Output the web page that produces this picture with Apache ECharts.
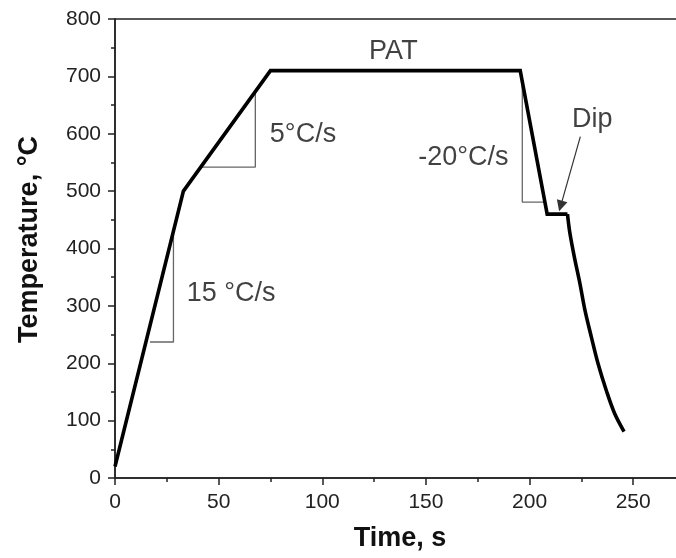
<!DOCTYPE html>
<html>
<head>
<meta charset="utf-8">
<script src="https://cdn.jsdelivr.net/npm/echarts@6/dist/echarts.min.js"></script>
<style>
html,body{margin:0;padding:0;background:#fff;}
#c{width:676px;height:558px;}
</style>
</head>
<body>
<div id="c"></div>
<script>
// Temperature profile: heating, PAT hold, quench to dip (time s, temperature °C)
var time = [0, 33, 75, 195.5, 208.5, 218.3];
var temp = [20, 500, 710, 710, 460, 460];
// final cooling after the dip
var coolTime = [218.3, 219.5, 221.9, 224.3, 226.7, 229.8, 233, 237, 241, 245.6];
var coolTemp = [460, 426, 380, 339, 293, 246, 200, 153, 113, 81];

// slope helper triangles
var tri15X = [16.9, 28.2, 28.2];
var tri15Y = [237, 237, 427];
var tri5X = [41.5, 67.7, 67.7];
var tri5Y = [542, 542, 673];
var tri20X = [196.5, 196.5, 207.3];
var tri20Y = [690, 481, 481];

// annotations
var noteText = ['PAT', '5°C/s', '15 °C/s', '-20°C/s', 'Dip'];
var noteX = [134.3, 90.7, 56, 168.1, 230.2];
var noteY = [744, 598, 321, 558, 624];

// arrow pointing to the dip
var arrowFrom = [224.5, 595];
var arrowTo = [215, 474];

// axes
var xMin = 0, xMax = 275, xStep = 50;
var yMin = 0, yMax = 800, yStep = 100;

function zip(a, b) { return a.map(function (v, i) { return [v, b[i]]; }); }

var FONT = "'Liberation Sans', Arial, sans-serif";
var chart = echarts.init(document.getElementById('c'), null, {renderer: 'canvas'});

var mainLine = {color: '#000', width: 3.6, join: 'miter', cap: 'butt'};
var option = {
  animation: false,
  backgroundColor: '#fff',
  grid: {left: 115, top: 19, width: 570, height: 459, show: true, borderColor: '#222', borderWidth: 1.5, backgroundColor: 'transparent', outerBoundsMode: 'none'},
  xAxis: {
    type: 'value', min: xMin, max: xMax, interval: xStep,
    name: 'Time, s', nameLocation: 'middle', nameGap: 47,
    nameTextStyle: {fontFamily: FONT, fontSize: 27, fontWeight: 'bold', color: '#111'},
    axisLine: {show: true, lineStyle: {color: '#222', width: 1.5}},
    axisTick: {show: true, inside: false, length: 7, lineStyle: {color: '#222', width: 1.5}},
    minorTick: {show: true, splitNumber: 2, length: 4, lineStyle: {color: '#222', width: 1.5}},
    splitLine: {show: false},
    axisLabel: {fontFamily: FONT, fontSize: 21, color: '#222', margin: 14,
      formatter: function (v) { return v % xStep === 0 ? String(v) : ''; }}
  },
  yAxis: {
    type: 'value', min: yMin, max: yMax, interval: yStep,
    name: 'Temperature, °C', nameLocation: 'middle', nameGap: 72,
    nameTextStyle: {fontFamily: FONT, fontSize: 27, fontWeight: 'bold', color: '#111', padding: [0, 0, 0, 18]},
    axisLine: {show: true, lineStyle: {color: '#222', width: 1.5}},
    axisTick: {show: true, inside: false, length: 7, lineStyle: {color: '#222', width: 1.5}},
    minorTick: {show: true, splitNumber: 2, length: 4, lineStyle: {color: '#222', width: 1.5}},
    splitLine: {show: false},
    axisLabel: {fontFamily: FONT, fontSize: 21, color: '#222', margin: 14}
  },
  series: [
    {type: 'line', data: zip(tri15X, tri15Y), symbol: 'none', silent: true,
      lineStyle: {color: '#666', width: 1.3}},
    {type: 'line', data: zip(tri5X, tri5Y), symbol: 'none', silent: true,
      lineStyle: {color: '#666', width: 1.3}},
    {type: 'line', data: zip(tri20X, tri20Y), symbol: 'none', silent: true,
      lineStyle: {color: '#666', width: 1.3}},
    {type: 'line', data: zip(time, temp), symbol: 'none', z: 5, lineStyle: mainLine},
    {type: 'line', data: zip(coolTime, coolTemp), symbol: 'none', z: 5, smooth: 0.35, lineStyle: mainLine},
    {type: 'lines', coordinateSystem: 'cartesian2d', z: 6,
      symbol: ['none', 'triangle'], symbolSize: [0, 11],
      lineStyle: {color: '#333', width: 1.2, opacity: 1},
      data: [{coords: [arrowFrom, arrowTo]}]},
    {type: 'scatter', symbolSize: 0, z: 7, silent: true,
      data: noteX.map(function (x, i) { return [x, noteY[i], noteText[i]]; }),
      label: {show: true, position: 'inside', fontFamily: FONT, fontSize: 27, color: '#111',
        formatter: function (p) { return p.data[2]; }}}
  ]
};
chart.setOption(option);
</script>
</body>
</html>
